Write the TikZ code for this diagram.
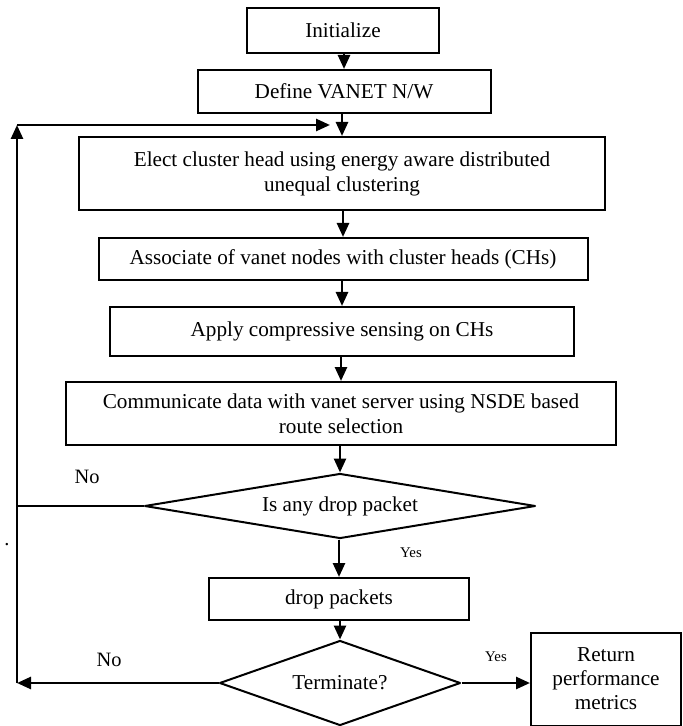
\documentclass[tikz,border=0pt]{standalone}
\usepackage{fontspec}
\setmainfont{Liberation Serif}
\usetikzlibrary{shapes.geometric,arrows.meta}

\begin{document}
\begin{tikzpicture}[x=0.5pt,y=-0.5pt,
  box/.style={draw,line width=1pt,rectangle,inner sep=0pt,align=center,
    font=\fontsize{10.6}{12.5}\selectfont},
  decision/.style={draw,line width=1pt,line join=round,diamond,inner sep=0pt,
    font=\fontsize{10.6}{12.5}\selectfont},
  arr/.style={line width=1.3pt,-{Triangle[length=7pt,width=6pt]}},
  lbl/.style={font=\fontsize{10.2}{12}\selectfont},
  small/.style={font=\fontsize{7.4}{9}\selectfont}]
  \useasboundingbox (0,0) rectangle (682,726);

  % steps of the scheme
  \node[box,minimum width=96pt,minimum height=22.5pt] (init) at (343,30.5) {Initialize};
  \node[box,minimum width=146.5pt,minimum height=21.5pt] (define) at (344,91.5) {Define VANET N/W};
  \node[box,minimum width=263pt,minimum height=36.5pt] (elect) at (342,173.5)
    {Elect cluster head using energy aware distributed\\unequal clustering};
  \node[box,minimum width=244.5pt,minimum height=21pt] (assoc) at (343,259)
    {Associate of vanet nodes with cluster heads (CHs)};
  \node[box,minimum width=232pt,minimum height=24.5pt] (apply) at (342,331.5)
    {Apply compressive sensing on CHs};
  \node[box,minimum width=275pt,minimum height=31.5pt] (comm) at (341,413.5)
    {Communicate data with vanet server using NSDE based\\route selection};
  \node[decision,aspect=6,minimum width=195.5pt,minimum height=32.5pt] (drop?) at (340,506) {Is any drop packet};
  \node[box,minimum width=130pt,minimum height=21pt] (drop) at (339,599) {drop packets};
  \node[decision,aspect=2.84,minimum width=120.5pt,minimum height=42.5pt] (term) at (340,683) {Terminate?};
  \node[box,minimum width=75pt,minimum height=46.5pt,font=\fontsize{10.6}{12}\selectfont] (ret) at (606,679)
    {Return\\performance\\metrics};

  % yes/no labels
  \node[lbl] (no1) at (87,477) {No};
  \node[lbl] (dot) at (7,545) {.};
  \node[small] (yes1) at (411,553) {Yes};
  \node[lbl] (no2) at (109,660) {No};
  \node[small] (yes2) at (496,657) {Yes};

  % corners of the loop back
  \coordinate (lb) at (17,683);
  \coordinate (lm) at (17,506);
  \coordinate (lt) at (17,125);
  \coordinate (lin) at (330,125);

  \foreach \a/\b in {init/define,define/elect,elect/assoc,assoc/apply,apply/comm,comm/drop?,drop?/drop,drop/term}
    \draw[arr] (\a.south -| \b.north) -- (\b.north);

  \draw[arr] (term.east) -- (ret.west |- term.east);
  \draw[arr] (term.west) -- (lb);
  \draw[arr] (lb) -- (lt);
  \draw[arr] (lt) -- (lin);
  \draw[line width=0.7pt] (drop?.west) -- (lm);
\end{tikzpicture}
\end{document}
